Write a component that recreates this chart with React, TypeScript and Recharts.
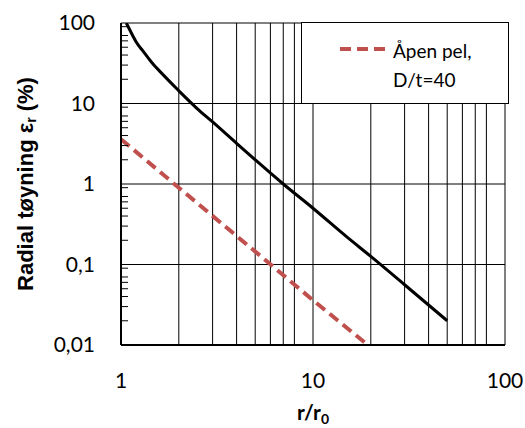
import React from 'react';
import {
    LineChart,
    Line,
    XAxis,
    YAxis,
    CartesianGrid,
    Legend,
} from 'recharts';

// closed pile curve (black) and open pile D/t=40 (red dashed)
const closedX = [1.066, 1.1, 1.15, 1.2, 1.3, 1.45, 1.65, 2, 2.5, 3, 4, 5, 7, 10, 15, 20, 30, 50];
const closedY = [100, 86, 70, 58, 45, 32, 23, 14.4, 8.6, 5.9, 3.2, 2.0, 1.0, 0.5, 0.22, 0.126, 0.056, 0.02];

const openX = [1, 2, 5, 10, 19.3];
const openY = [3.6, 0.9, 0.145, 0.036, 0.01];

const xTicks = [1, 2, 3, 4, 5, 6, 7, 8, 9, 10, 20, 30, 40, 50, 60, 70, 80, 90, 100];
const yMajorTicks = [0.01, 0.1, 1, 10, 100];
const yMinorTicks = [
    0.02, 0.03, 0.04, 0.05, 0.06, 0.07, 0.08, 0.09,
    0.2, 0.3, 0.4, 0.5, 0.6, 0.7, 0.8, 0.9,
    2, 3, 4, 5, 6, 7, 8, 9,
    20, 30, 40, 50, 60, 70, 80, 90,
];

const closedData = closedX.map((x, i) => ({ x, y: closedY[i] }));
const openData = openX.map((x, i) => ({ x, y: openY[i] }));

const tickFont = { fontFamily: 'Lato', fontSize: 21, fill: '#000' };

const fmtY = (v: number) => String(v).replace('.', ',');
const fmtX = (v: number) => (v === 1 || v === 10 || v === 100 ? String(v) : '');

const LegendBox = () => (
    <div
        style={{
            width: 208,
            height: 82,
            boxSizing: 'border-box',
            border: '1.5px solid #000',
            background: '#fff',
            position: 'relative',
            fontFamily: 'Lato',
            fontSize: 19,
            color: '#000',
        }}
    >
        <svg width={50} height={10} style={{ position: 'absolute', left: 36, top: 21 }}>
            <line x1={2} y1={5} x2={47} y2={5} stroke="#C0504D" strokeWidth={4} strokeDasharray="11 6" />
        </svg>
        <div style={{ position: 'absolute', left: 91, top: 13, lineHeight: '29px' }}>
            Åpen pel,
            <br />
            D/t=40
        </div>
    </div>
);

export default function App() {
    return (
        <>
            <style>{'body{margin:0}'}</style>
            <LineChart width={525} height={428} margin={{ top: 23, right: 20, bottom: 0, left: 0 }}>
                <CartesianGrid stroke="#000" strokeWidth={1} />
                <XAxis
                    type="number"
                    dataKey="x"
                    scale="log"
                    domain={[1, 100]}
                    ticks={xTicks}
                    tickFormatter={fmtX}
                    allowDataOverflow
                    height={83}
                    tickLine={false}
                    tickMargin={22}
                    axisLine={{ stroke: '#000', strokeWidth: 2 }}
                    tick={tickFont}
                    label={{
                        content: ({ viewBox }: any) => (
                            <text
                                x={viewBox.x + viewBox.width / 2}
                                y={viewBox.y + 75}
                                textAnchor="middle"
                                fontFamily="Lato"
                                fontWeight="bold"
                                fontSize={21}
                            >
                                r/r
                                <tspan fontSize={14} dy={4}>0</tspan>
                            </text>
                        ),
                    }}
                />
                <YAxis
                    type="number"
                    dataKey="y"
                    scale="log"
                    domain={[0.01, 100]}
                    ticks={yMajorTicks}
                    tickFormatter={fmtY}
                    allowDataOverflow
                    width={121}
                    tickLine={false}
                    tickMargin={20}
                    axisLine={{ stroke: '#000', strokeWidth: 2 }}
                    tick={tickFont}
                    label={{
                        content: ({ viewBox }: any) => {
                            const cx = viewBox.x + 25;
                            const cy = viewBox.y + viewBox.height / 2;
                            return (
                                <text
                                    x={cx}
                                    y={cy}
                                    transform={`rotate(-90 ${cx} ${cy})`}
                                    textAnchor="middle"
                                    dominantBaseline="central"
                                    fontFamily="Liberation Sans"
                                    fontWeight="bold"
                                    fontSize={22}
                                >
                                    Radial tøyning ε
                                    <tspan fontSize={14} dy={6}>r</tspan>
                                    <tspan dy={-6}> (%)</tspan>
                                </text>
                            );
                        },
                    }}
                />
                <YAxis
                    yAxisId="minor"
                    type="number"
                    scale="log"
                    domain={[0.01, 100]}
                    ticks={yMinorTicks}
                    tickFormatter={() => ''}
                    allowDataOverflow
                    mirror
                    axisLine={false}
                    tickSize={7}
                    tickLine={{ stroke: '#000', strokeWidth: 1 }}
                />
                <Line
                    data={closedData}
                    dataKey="y"
                    type="monotone"
                    stroke="#000"
                    strokeWidth={3}
                    dot={false}
                    isAnimationActive={false}
                    legendType="none"
                    name="Lukket pel"
                />
                <Line
                    data={openData}
                    dataKey="y"
                    type="linear"
                    stroke="#C0504D"
                    strokeWidth={4}
                    strokeDasharray="11 6"
                    dot={false}
                    isAnimationActive={false}
                    name="Åpen pel, D/t=40"
                />
                <Legend
                    content={() => <LegendBox />}
                    verticalAlign="middle"
                    layout="horizontal"
                    wrapperStyle={{ position: 'absolute', left: 301, top: 22, width: 208, height: 82 }}
                />
            </LineChart>
        </>
    );
}
